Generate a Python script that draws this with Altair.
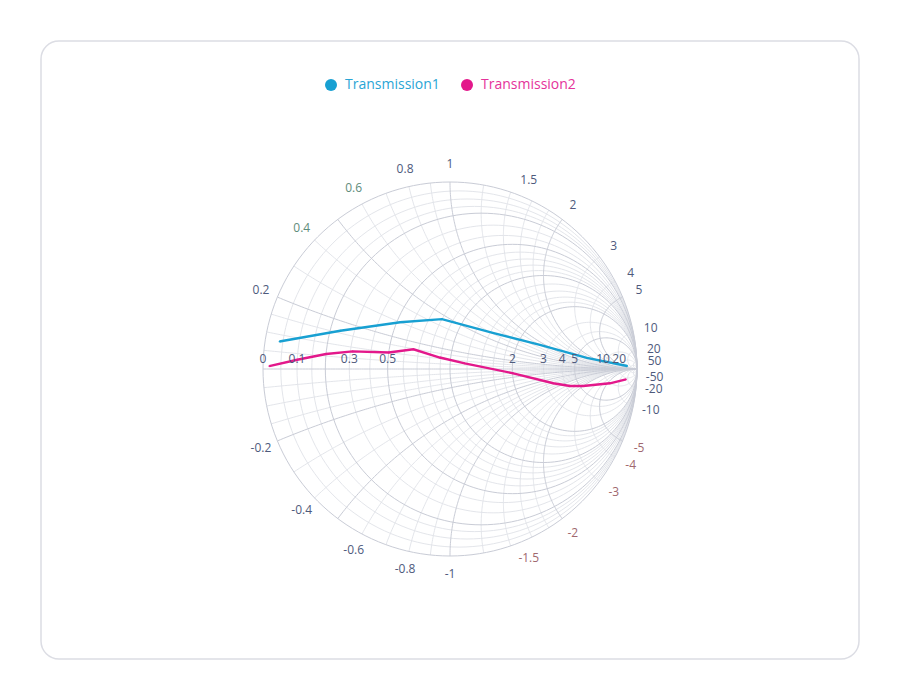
import altair as alt
import numpy as np
import pandas as pd

# ---------------- data (impedance, normalised) ----------------
SERIES = ["Transmission1", "Transmission2"]
COLORS = ["#18a0d2", "#e3188b"]
LABEL_COLORS = ["#2aa5d5", "#e5339a"]

T1_R = [0.04, 0.24, 0.52, 0.80, 1.44, 2.63, 6.1, 34.0]
T1_X = [0.08, 0.16, 0.30, 0.46, 0.61, 0.90, 1.57, 10.8]

T2_R = [0.017, 0.10, 0.20, 0.31, 0.50, 0.66, 0.89, 1.17, 2.02, 3.34, 4.24, 5.33, 9.8, 17.0]
T2_X = [0.008, 0.03, 0.058, 0.081, 0.10, 0.146, 0.11, 0.07, -0.105, -0.74, -1.33, -2.0, -5.7, -17.0]

# grid values
GRID_MAJOR = [0.2, 0.5, 1, 2, 5]
GRID_MINOR = [0.05, 0.1, 0.15, 0.3, 0.4, 0.6, 0.7, 0.8, 0.9, 1.2, 1.4, 1.6, 1.8, 3, 4, 10, 20, 50]

# tick labels
REAL_LABELS = [0, 0.1, 0.3, 0.5, 2, 3, 4, 5, 10, 20]
IMAG_LABELS = [0.2, 0.4, 0.6, 0.8, 1, 1.5, 2, 3, 4, 5, 10, 20, 50]

# ---------------- tables ----------------
series_rows = []
for name, rs, xs_ in [(SERIES[0], T1_R, T1_X), (SERIES[1], T2_R, T2_X)]:
    for i, (r, x) in enumerate(zip(rs, xs_)):
        series_rows.append({"series": name, "idx": i, "r": r, "x": x})
series_df = pd.DataFrame(series_rows)

N = 160
def grid_rows(values, tier):
    rows = []
    for val in values:
        for i in range(N + 1):
            rows.append({"kind": "r", "val": val, "gid": f"r{val}", "seq": i,
                         "p": 2 * np.pi * i / N, "tier": tier})
        for sgn in ([1, -1] if val != 0 else [1]):
            for i in range(N + 1):
                rows.append({"kind": "x", "val": sgn * val, "gid": f"x{sgn*val}", "seq": i,
                             "p": (np.pi / 2) * i / N * 0.99999, "tier": tier})
    return rows

grid_df = pd.DataFrame(grid_rows([0] + GRID_MAJOR, "major") + grid_rows(GRID_MINOR, "minor"))

imag_df = pd.DataFrame({"val": IMAG_LABELS + [-v for v in IMAG_LABELS]})
imag_df["txt"] = [f"{v:g}" for v in imag_df["val"]]
real_df = pd.DataFrame({"val": REAL_LABELS, "txt": [f"{v:g}" for v in REAL_LABELS]})

# ---------------- scales ----------------
W, H = 818, 618
CX, CY, RAD = 409, 328, 187
xs = alt.Scale(domain=[-CX / RAD, (W - CX) / RAD], nice=False, zero=False)
ys = alt.Scale(domain=[-(H - CY) / RAD, CY / RAD], nice=False, zero=False)

def X():
    return alt.X("u:Q", scale=xs, axis=None)
def Y():
    return alt.Y("v:Q", scale=ys, axis=None)

grid_base = (
    alt.Chart(grid_df)
    .transform_calculate(rho="tan(datum.p)")
    .transform_calculate(
        u="datum.kind == 'r' ? datum.val/(datum.val+1) + cos(datum.p)/(datum.val+1)"
          " : (datum.rho*datum.rho + datum.val*datum.val - 1)/((datum.rho+1)*(datum.rho+1) + datum.val*datum.val)",
        v="datum.kind == 'r' ? sin(datum.p)/(datum.val+1)"
          " : 2*datum.val/((datum.rho+1)*(datum.rho+1) + datum.val*datum.val)",
    )
)
grid_minor = grid_base.transform_filter("datum.tier == 'minor'").mark_line(
    strokeWidth=0.9, color="#e0e2e8"
).encode(x=X(), y=Y(), detail="gid:N", order="seq:Q")
grid_major = grid_base.transform_filter("datum.tier == 'major'").mark_line(
    strokeWidth=1, color="#c9ccd6"
).encode(x=X(), y=Y(), detail="gid:N", order="seq:Q")

series_base = alt.Chart(series_df).transform_calculate(
    u="(datum.r*datum.r + datum.x*datum.x - 1)/((datum.r+1)*(datum.r+1) + datum.x*datum.x)",
    v="2*datum.x/((datum.r+1)*(datum.r+1) + datum.x*datum.x)",
)
lines = series_base.mark_line(strokeWidth=2.4).encode(
    x=X(), y=Y(), order="idx:Q",
    stroke=alt.Stroke("series:N", scale=alt.Scale(domain=SERIES, range=COLORS), legend=None),
)

def legend_kw(i, lx):
    return dict(
        orient="none", legendX=lx, legendY=37, direction="horizontal", title=None,
        symbolType="circle", symbolSize=144, symbolStrokeWidth=0, symbolOpacity=1,
        labelFont="Open Sans", labelFontSize=14, labelOffset=7,
        padding=0, labelColor=LABEL_COLORS[i],
    )

leg1 = series_base.transform_filter(f"datum.series == '{SERIES[0]}'").mark_circle(size=3, opacity=1).encode(
    x=X(), y=Y(),
    fill=alt.Fill("series:N", scale=alt.Scale(domain=[SERIES[0]], range=[COLORS[0]]),
                  legend=alt.Legend(**legend_kw(0, 283))),
)
leg2 = series_base.transform_filter(f"datum.series == '{SERIES[1]}'").mark_circle(size=3, opacity=1).encode(
    x=X(), y=Y(),
    color=alt.Color("series:N", scale=alt.Scale(domain=[SERIES[1]], range=[COLORS[1]]),
                    legend=alt.Legend(**legend_kw(1, 419))),
)

imag_labels = alt.Chart(imag_df).transform_calculate(
    u="1.095*(datum.val*datum.val - 1)/(datum.val*datum.val + 1)",
    v="1.095*2*datum.val/(datum.val*datum.val + 1)",
    clr="(datum.val >= 0.3 && datum.val <= 0.7) ? '#5e8c7b' : ((datum.val <= -1.5 && datum.val >= -5) ? '#a0686f' : '#4e5a7c')",
).mark_text(font="Open Sans", fontSize=12, align="center", baseline="middle").encode(
    x=X(), y=Y(), text="txt:N", color=alt.Color("clr:N", scale=None)
)
real_labels = alt.Chart(real_df).transform_calculate(
    u="(datum.val - 1)/(datum.val + 1)", v="0"
).mark_text(font="Open Sans", fontSize=12, align="center", baseline="middle", dy=-10,
            color="#4e5a7c").encode(x=X(), y=Y(), text="txt:N")

chart = (
    alt.layer(grid_minor, grid_major, lines, leg1, leg2, imag_labels, real_labels)
    .resolve_scale(fill="independent", color="independent")
    .properties(width=W, height=H, padding={"left": 33, "top": 33, "right": 4, "bottom": 4},
                background="white")
    .configure_view(stroke="#dcdde4", strokeWidth=1.5, cornerRadius=18)
)

chart.save("out.html", embed_options={"renderer": "svg", "actions": False})
